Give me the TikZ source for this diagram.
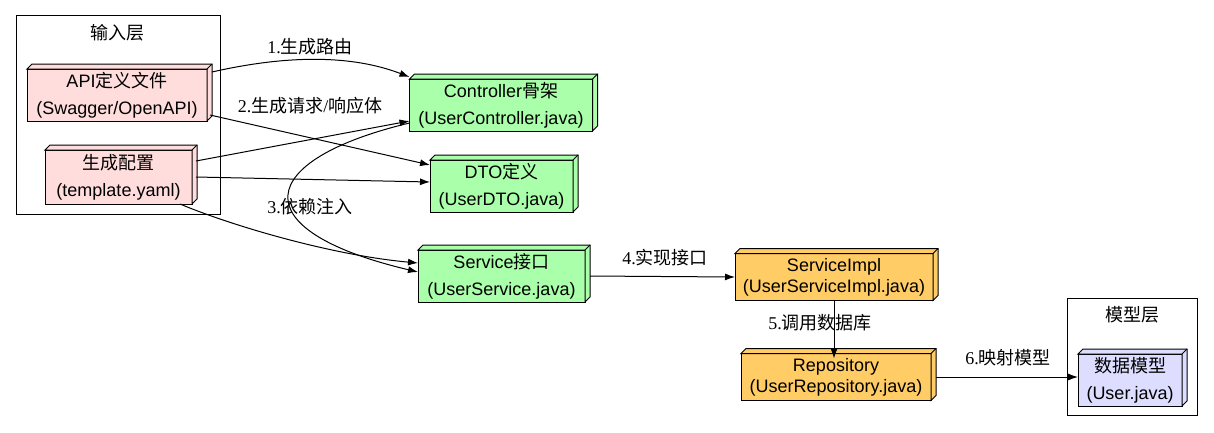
\documentclass[tikz,border=0pt]{standalone}
\usepackage{fontspec}
\setmainfont{Liberation Serif}
\setsansfont{Liberation Sans}
\newfontfamily\cjk{Noto Sans CJK SC}
\usetikzlibrary{arrows.meta,calc}
\newcommand{\zh}[1]{{\cjk #1}}
\newcommand{\boxdepth}[2]{%
  \draw[line width=1pt, fill=#2, line join=miter]
    (#1.north west) -- ++(5,-5) -- ($(#1.north east)+(5,-5)$)
    -- ($(#1.south east)+(5,-5)$) -- (#1.south east) -- (#1.north east) -- cycle;
  \draw[line width=1pt] (#1.north east) -- ++(5,-5);
}
\definecolor{inpink}{HTML}{FFDDDD}
\definecolor{gengreen}{HTML}{AAFFAA}
\definecolor{implorange}{HTML}{FFCC66}
\definecolor{modelblue}{HTML}{DDDDFF}
\tikzset{
  box/.style={draw, line width=1pt, fill=#1, inner sep=0pt, outer sep=0pt,
    align=center, font=\sffamily\fontsize{18}{21}\selectfont},
  cluster/.style={draw, line width=1pt, inner sep=0pt, outer sep=0pt},
  elabel/.style={inner sep=0pt, font=\fontsize{18}{21}\selectfont},
  edge/.style={line width=1pt, -{Latex[length=10pt,width=7pt]}},
}

\begin{document}
\begin{tikzpicture}[x=1pt,y=-1pt]
  \useasboundingbox (0,0) rectangle (1214,432);
  % clusters
  \node[cluster, minimum width=204, minimum height=199] (inl) at (118,114.5) {};
  \node[elabel] (inlt) at (117,33) {\zh{输入层}};
  \node[cluster, minimum width=130, minimum height=117] (mdl) at (1132,356.5) {};
  \node[elabel] (mdlt) at (1132,315) {\zh{模型层}};
  %
  \node[box=inpink, minimum width=180, minimum height=52] (api) at (117,95)
    {API\zh{定义文件}\\[6pt](Swagger/OpenAPI)};
  \node[box=inpink, minimum width=147, minimum height=54] (cfg) at (118.5,177)
    {\zh{生成配置}\\[6pt](template.yaml)};
  \node[box=gengreen, minimum width=183, minimum height=52] (ctrl) at (501,105)
    {Controller\zh{骨架}\\[6pt](UserController.java)};
  \node[box=gengreen, minimum width=143, minimum height=52] (dto) at (501.5,186)
    {DTO\zh{定义}\\[6pt](UserDTO.java)};
  \node[box=gengreen, minimum width=167, minimum height=52] (svc) at (501.5,276)
    {Service\zh{接口}\\[6pt](UserService.java)};
  \node[box=implorange, minimum width=198, minimum height=47] (impl) at (834,277)
    {ServiceImpl\\(UserServiceImpl.java)};
  \node[box=implorange, minimum width=190, minimum height=47] (repo) at (836,377)
    {Repository\\(UserRepository.java)};
  \node[box=modelblue, minimum width=104, minimum height=52] (user) at (1130,380)
    {\zh{数据模型}\\[6pt](User.java)};
  \foreach \n/\c in {api/inpink, cfg/inpink, ctrl/gengreen, dto/gengreen,
      svc/gengreen, impl/implorange, repo/implorange, user/modelblue}
    \boxdepth{\n}{\c};
  %
  \draw[edge] ([shift={(5,-23)}]api.east) .. controls (300,52) and (360,58)
    .. ([shift={(0,-28)}]ctrl.west);
  \node[elabel] (l1) at (310,47) {1.\zh{生成路由}};
  \draw[edge] ([shift={(4,-16)}]cfg.east) -- ([shift={(0,16)}]ctrl.west);
  \node[elabel] (l2) at (310,106) {2.\zh{生成请求}/\zh{响应体}};
  \draw[edge] ([shift={(3,20)}]api.east) -- ([shift={(0,-21)}]dto.west);
  \draw[edge] ([shift={(4,0)}]cfg.east) -- ([shift={(0,-4)}]dto.west);
  \draw[edge] ([xshift=-12]cfg.south east) .. controls (230,225) and (330,255)
    .. ([shift={(0,-13)}]svc.west);
  \draw[edge] ([shift={(0,18)}]ctrl.west) .. controls (255,160) and (240,230)
    .. ([shift={(0,-4)}]svc.west);
  \node[elabel] (l3) at (310,207) {3.\zh{依赖注入}};
  \draw[edge] ([xshift=5]svc.east) -- (impl.west);
  \node[elabel] (l4) at (665,258) {4.\zh{实现接口}};
  \draw[edge] (impl.south) -- ([yshift=-5]impl.south |- repo.north);
  \node[elabel] (l5) at (820,323) {5.\zh{调用数据库}};
  \draw[edge] ([xshift=5]repo.east) -- (user.west |- repo.east);
  \node[elabel] (l6) at (1008,358) {6.\zh{映射模型}};
\end{tikzpicture}
\end{document}
